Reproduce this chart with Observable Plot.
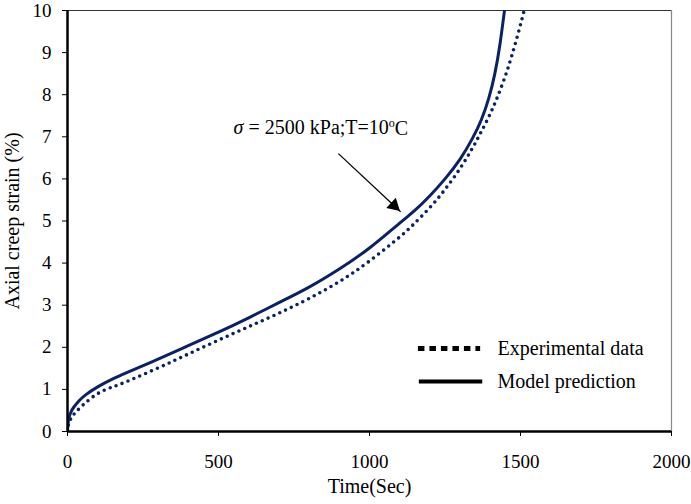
<!DOCTYPE html>
<html>
<head>
<meta charset="utf-8">
<script src="https://cdn.jsdelivr.net/npm/d3@7"></script>
<script src="https://cdn.jsdelivr.net/npm/@observablehq/plot@0.6"></script>
<style>
  html, body { margin: 0; padding: 0; background: #fff; }
  svg { display: block; }
</style>
</head>
<body>
<div id="chart"></div>
<script>
// Model prediction (solid)
const modelTime   = [0, 2, 5, 10, 20, 40, 60, 100, 150, 200, 300, 400, 500, 600, 700, 800, 900, 1000, 1100, 1150, 1200, 1250, 1300, 1340, 1370, 1395, 1415, 1432, 1447];
const modelStrain = [0, 0.2, 0.33, 0.44, 0.57, 0.74, 0.87, 1.06, 1.25, 1.41, 1.72, 2.04, 2.36, 2.7, 3.06, 3.43, 3.86, 4.36, 4.95, 5.25, 5.6, 6.0, 6.47, 6.95, 7.4, 7.92, 8.5, 9.2, 10];
// Experimental data (dotted)
const expTime   = [0, 2, 5, 10, 20, 50, 100, 150, 200, 300, 400, 500, 600, 700, 800, 900, 1000, 1100, 1150, 1200, 1250, 1300, 1340, 1370, 1400, 1425, 1450, 1470, 1490, 1505, 1512];
const expStrain = [0, 0.12, 0.2, 0.29, 0.4, 0.62, 0.9, 1.06, 1.2, 1.51, 1.84, 2.17, 2.49, 2.81, 3.16, 3.56, 4.05, 4.62, 4.95, 5.32, 5.75, 6.25, 6.72, 7.12, 7.55, 7.97, 8.45, 8.9, 9.4, 9.8, 10];

const xTicks = [0, 500, 1000, 1500, 2000];
const yTicks = [0, 1, 2, 3, 4, 5, 6, 7, 8, 9, 10];
const legendLabels = ["Experimental data", "Model prediction"];
const annotation = "σ = 2500 kPa;T=10oC";

const model = modelTime.map((t, i) => ({t, s: modelStrain[i]}));
const exp = expTime.map((t, i) => ({t, s: expStrain[i]}));

const navy = "#0a2163";
const font = "Liberation Serif, Times New Roman, serif";

const plot = Plot.plot({
  width: 691,
  height: 504,
  marginLeft: 67,
  marginRight: 20,
  marginTop: 10,
  marginBottom: 73,
  style: {fontFamily: font, fontSize: "19px", color: "#000", background: "#fff"},
  x: {domain: [0, 2000]},
  y: {domain: [0, 10]},
  marks: [
    Plot.axisX({ticks: xTicks, tickSize: 5, tickPadding: 18, tickFormat: d => String(d), label: null, fontSize: 19}),
    Plot.axisY({ticks: yTicks, tickSize: 5, tickPadding: 11, tickFormat: d => String(d), label: null, fontSize: 19}),
    Plot.ruleY([10], {stroke: "#333", strokeWidth: 1.2}),
    Plot.ruleX([2000], {stroke: "#888", strokeWidth: 1.2}),
    Plot.line(exp, {x: "t", y: "s", stroke: navy, strokeWidth: 3.6, strokeDasharray: "0,6.4", strokeLinecap: "round", curve: "natural", clip: true}),
    Plot.line(model, {x: "t", y: "s", stroke: navy, strokeWidth: 3, curve: "natural", clip: true}),
    Plot.ruleY([0], {stroke: "#000", strokeWidth: 2.5}),
    Plot.ruleX([0], {stroke: "#000", strokeWidth: 2.5}),
    // annotation arrow
    Plot.link([{x1: 897, y1: 6.6, x2: 1103, y2: 5.22}], {x1: "x1", y1: "y1", x2: "x2", y2: "y2", stroke: "#000", strokeWidth: 1.3, insetEnd: 8}),
    Plot.dot([{x: 1103, y: 5.22}], {x: "x", y: "y", symbol: "triangle", r: 5.2, fill: "#000", stroke: "none", rotate: 132.6, dx: -6.6, dy: -6.1}),
    Plot.text([annotation], {x: 550, y: 7.22, text: d => d, textAnchor: "start", fontSize: 20, fill: "#000"}),
    // legend
    Plot.ruleY([1.97], {x1: 1162, x2: 1368, stroke: "#000", strokeWidth: 5, strokeDasharray: "6.5,5"}),
    Plot.ruleY([1.19], {x1: 1165, x2: 1375, stroke: "#000", strokeWidth: 4}),
    Plot.text([legendLabels[0]], {x: 1424, y: 1.97, text: d => d, textAnchor: "start", fontSize: 20, fill: "#000"}),
    Plot.text([legendLabels[1]], {x: 1424, y: 1.19, text: d => d, textAnchor: "start", fontSize: 20, fill: "#000"}),
    // axis titles
    Plot.text(["Time(Sec)"], {frameAnchor: "bottom", dy: 61, text: d => d, fontSize: 20, fill: "#000"}),
    Plot.text(["Axial creep strain (%)"], {frameAnchor: "left", textAnchor: "middle", dx: -55, rotate: -90, text: d => d, fontSize: 20, fill: "#000"})
  ]
});

// superscript & italic in annotation
plot.querySelectorAll("text").forEach(el => {
  if (el.textContent === annotation) {
    const sel = d3.select(el);
    sel.text(null);
    sel.append("tspan").attr("font-style", "italic").text("σ");
    sel.append("tspan").text(" = 2500 kPa;T=10");
    sel.append("tspan").attr("font-size", "12px").attr("dy", "-0.55em").text("o");
    sel.append("tspan").attr("dy", "0.36em").text("C");
  }
});

document.getElementById("chart").appendChild(plot);
</script>
</body>
</html>
